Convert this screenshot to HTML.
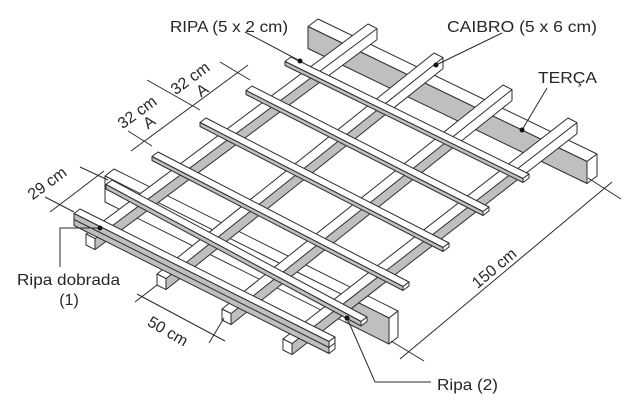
<!DOCTYPE html>
<html><head><meta charset="utf-8">
<style>
html,body{margin:0;padding:0;background:#fff;}
svg{display:block;}
text{font-family:"Liberation Sans",Arial,sans-serif;fill:#262626;}
</style></head><body>
<svg id="s" xmlns="http://www.w3.org/2000/svg" width="641" height="416" viewBox="0 0 641 416">
<rect width="641" height="416" fill="#fff"/>
<g id="g"></g>
<g stroke="#2b2b2b" stroke-width="1" fill="none">
 <line x1="131" y1="151" x2="248" y2="65"/>
 <line x1="220" y1="62" x2="250" y2="80"/>
 <line x1="147" y1="80" x2="200" y2="110"/>
 <line x1="128" y1="131" x2="152" y2="146"/>
 <line x1="50" y1="212" x2="104" y2="171"/>
 <line x1="80" y1="167" x2="108" y2="180"/>
 <line x1="45" y1="197" x2="74" y2="212"/>
 <line x1="137" y1="294" x2="225" y2="341"/>
 <line x1="157" y1="285" x2="135" y2="302"/>
 <line x1="224" y1="318" x2="209" y2="343"/>
 <line x1="400" y1="359" x2="612" y2="182"/>
 <line x1="391" y1="341" x2="424" y2="361"/>
 <line x1="588" y1="178" x2="621" y2="199"/>
 <polyline points="245,32 300,61"/>
 <polyline points="502,33 436,65"/>
 <polyline points="547,88 522,130"/>
 <polyline points="100,228 60,228 60,267"/>
 <polyline points="347,318 375,382 431,382"/>
</g>
<g fill="#111">
 <circle cx="300" cy="61" r="2.5"/>
 <circle cx="436" cy="65" r="2.5"/>
 <circle cx="522" cy="130" r="2.5"/>
 <circle cx="100" cy="228" r="2.5"/>
 <circle cx="347" cy="318" r="2.5"/>
</g>
<g font-size="16">
 <text x="170" y="32" textLength="118" lengthAdjust="spacingAndGlyphs">RIPA (5 x 2 cm)</text>
 <text x="447" y="32" textLength="150" lengthAdjust="spacingAndGlyphs">CAIBRO (5 x 6 cm)</text>
 <text x="538" y="83" textLength="59" lengthAdjust="spacingAndGlyphs">TERÇA</text>
 <text x="17" y="285" textLength="103" lengthAdjust="spacingAndGlyphs">Ripa dobrada</text>
 <text x="69" y="305" text-anchor="middle">(1)</text>
 <text x="437" y="390" textLength="61" lengthAdjust="spacingAndGlyphs">Ripa (2)</text>
 <text x="190" y="78" dy="0.35em" text-anchor="middle" transform="rotate(-36 190 78)">32 cm</text>
 <text x="202" y="90" dy="0.35em" text-anchor="middle" transform="rotate(-36 202 90)">A</text>
 <text x="137" y="112" dy="0.35em" text-anchor="middle" transform="rotate(-36 137 112)">32 cm</text>
 <text x="149" y="122" dy="0.35em" text-anchor="middle" transform="rotate(-36 149 122)">A</text>
 <text x="47" y="183" dy="0.35em" text-anchor="middle" transform="rotate(-36 47 183)">29 cm</text>
 <text x="168" y="331" dy="0.35em" text-anchor="middle" transform="rotate(30 168 331)">50 cm</text>
 <text x="494" y="268" dy="0.35em" text-anchor="middle" transform="rotate(-40 494 268)">150 cm</text>
</g>
</svg>
<script>
(function(){
var NS='http://www.w3.org/2000/svg',G=document.getElementById('g');
var LC='#2e2e2e',GR='#bfbfbf',WH='#ffffff';
function f(p){return p[0].toFixed(2)+','+p[1].toFixed(2);}
function P(pts,fill,nostroke){var e=document.createElementNS(NS,'polygon');e.setAttribute('points',pts.map(f).join(' '));e.setAttribute('fill',fill);if(!nostroke){e.setAttribute('stroke',LC);e.setAttribute('stroke-width','1');e.setAttribute('stroke-linejoin','round');}G.appendChild(e);}
function Ln(a,b){var e=document.createElementNS(NS,'line');e.setAttribute('x1',a[0].toFixed(2));e.setAttribute('y1',a[1].toFixed(2));e.setAttribute('x2',b[0].toFixed(2));e.setAttribute('y2',b[1].toFixed(2));e.setAttribute('stroke',LC);e.setAttribute('stroke-width','1');G.appendChild(e);}
function A(a,b){return [a[0]+b[0],a[1]+b[1]];}
function beam(a,b,W,h,tf,ff,ef,mid){
 var H=[0,h],aw=A(a,W),bw=A(b,W);
 P([a,b,bw,aw],tf);
 P([aw,bw,A(bw,H),A(aw,H)],ff);
 P([bw,b,A(b,H),A(bw,H)],ef);
 if(mid){var M=[0,h/2];Ln(A(aw,M),A(bw,M));Ln(A(bw,M),A(b,M));}
}
function inter(p,t,a,b){
 var dx=t[0]-p[0],dy=t[1]-p[1],ex=b[0]-a[0],ey=b[1]-a[1];
 var den=dx*ey-dy*ex;return ((a[0]-p[0])*ey-(a[1]-p[1])*ex)/den;
}
function caibro(p,t,U,h,s){
 var H=[0,h],pu=A(p,U),tu=A(t,U);
 var m=[p[0]+(t[0]-p[0])*s,p[1]+(t[1]-p[1])*s],mu=A(m,U);
 P([pu,mu,A(mu,H),A(pu,H)],GR,true);
 P([mu,tu,A(tu,H),A(mu,H)],WH,true);
 Ln(A(pu,H),A(tu,H));Ln(tu,A(tu,H));
 P([p,t,tu,pu],WH);
 P([p,pu,A(pu,H),A(p,H)],WH);
}
// upper terça
beam([318,19],[597,154],[-10,7.5],22,WH,GR,WH,false);
// lower terça (front face mostly white, gray near right end)
beam([114,169],[398,311],[-9,7],26,WH,WH,WH,false);
P([[345,296],[389,318],[389,344],[345,322]],GR,true);
Ln([345,322],[389,344]);Ln([389,318],[389,344]);Ln([345,296],[389,318]);
// caibros
var R1a=[291,57],R1b=[529,174];
var U=[9,4.6],CH=11;
var C=[[[86,234],[368,24]],[[157,274],[434,53]],[[222,309],[503,85]],[[283,339],[568,118]]];
C.forEach(function(c){var s=inter(c[0],c[1],R1a,R1b);caibro(c[0],c[1],U,CH,s);});
// ripas
var W=[-6,4.5];
var R=[[[291,57],[529,174],4],[[252,86],[489,207],4],[[206,118],[449,243],4],[[158,152],[409,282],4],[[112,180],[367,317],4.5],[[80,209],[335,337],12]];
R.forEach(function(r,i){beam(r[0],r[1],W,r[2],WH,GR,WH,i==5);});
})();
</script>
</body></html>
